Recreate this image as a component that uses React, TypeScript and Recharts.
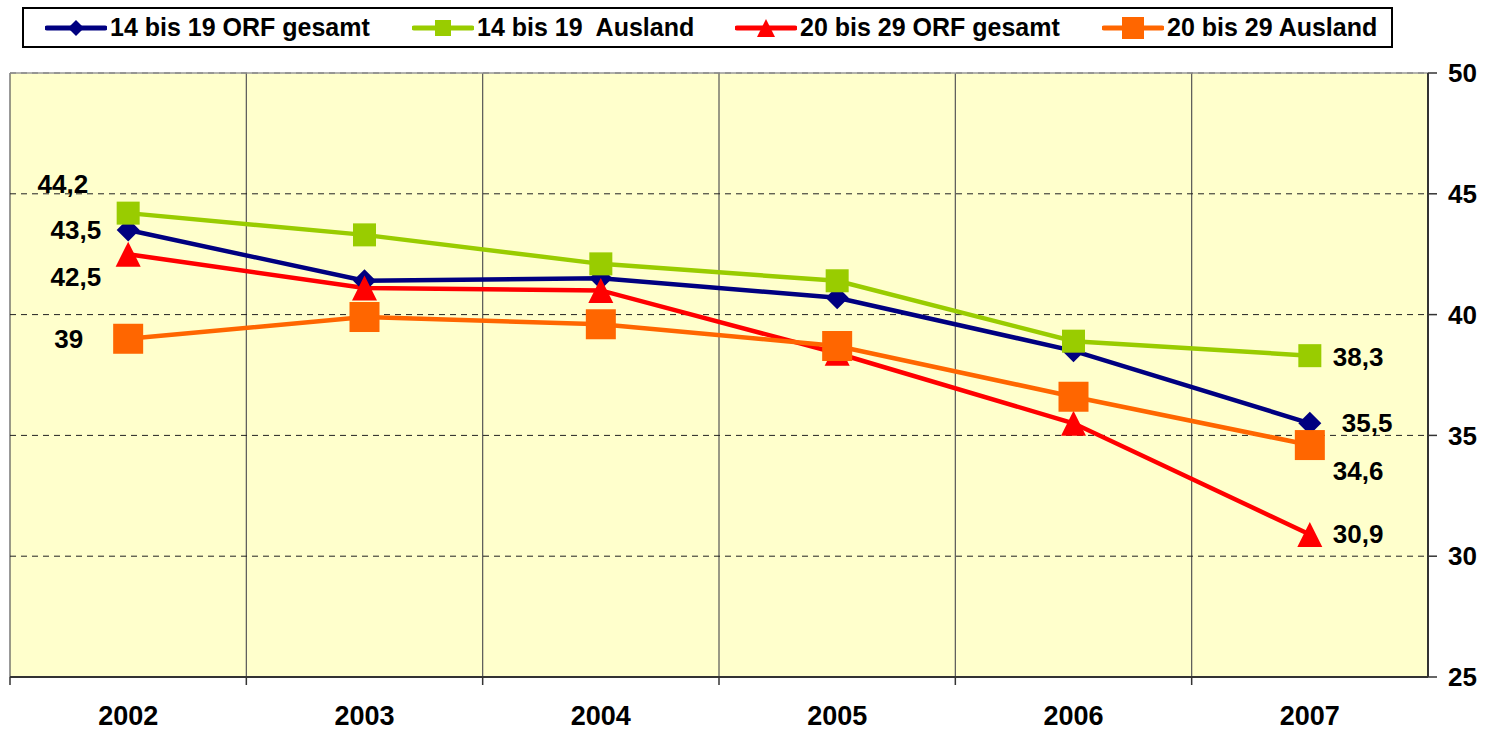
import React from "react";
import {
  LineChart,
  Line,
  XAxis,
  YAxis,
  CartesianGrid,
  ReferenceLine,
  LabelList,
} from "recharts";

const years = ["2002", "2003", "2004", "2005", "2006", "2007"];
const orf1419 = [43.5, 41.4, 41.5, 40.7, 38.5, 35.5];
const ausland1419 = [44.2, 43.3, 42.1, 41.4, 38.9, 38.3];
const orf2029 = [42.5, 41.1, 41.0, 38.4, 35.5, 30.9];
const ausland2029 = [39, 39.9, 39.6, 38.7, 36.6, 34.6];
const yTicks = [25, 30, 35, 40, 45, 50];

const data = years.map((year, i) => ({
  year,
  orf1419: orf1419[i],
  ausland1419: ausland1419[i],
  orf2029: orf2029[i],
  ausland2029: ausland2029[i],
}));

const FONT = "'Liberation Sans', Arial, sans-serif";
const W = 1488;
const H = 731;
const MARGIN = { top: 73, right: 0, left: 10, bottom: 0 };
const Y_AXIS_W = 60;
const BAND = (W - MARGIN.left - MARGIN.right - Y_AXIS_W) / years.length;

type Shape = "diamond" | "square" | "triangle";

const series = [
  {
    key: "orf1419",
    name: "14 bis 19 ORF gesamt",
    color: "#000080",
    shape: "diamond" as Shape,
    r: 11.5,
    lr: 8,
    legendX: 21,
    first: { dx: -27, dy: 0 },
    last: { dx: 32, dy: 0 },
  },
  {
    key: "ausland1419",
    name: "14 bis 19  Ausland",
    color: "#99CC00",
    shape: "square" as Shape,
    r: 11.5,
    lr: 8,
    legendX: 388,
    first: { dx: -40, dy: -29 },
    last: { dx: 23, dy: 1 },
  },
  {
    key: "orf2029",
    name: "20 bis 29 ORF gesamt",
    color: "#FF0000",
    shape: "triangle" as Shape,
    r: 12.5,
    lr: 9,
    legendX: 711,
    first: { dx: -27, dy: 23 },
    last: { dx: 23, dy: 0 },
  },
  {
    key: "ausland2029",
    name: "20 bis 29 Ausland",
    color: "#FF6600",
    shape: "square" as Shape,
    r: 15,
    lr: 11,
    legendX: 1078,
    first: { dx: -45, dy: 0 },
    last: { dx: 23, dy: 26 },
  },
];

function marker(shape: Shape, color: string, cx: number, cy: number, r: number, key?: string) {
  if (shape === "diamond") {
    return (
      <polygon
        key={key}
        points={`${cx},${cy - r} ${cx + r},${cy} ${cx},${cy + r} ${cx - r},${cy}`}
        fill={color}
      />
    );
  }
  if (shape === "triangle") {
    return (
      <polygon
        key={key}
        points={`${cx},${cy - r} ${cx + r},${cy + r} ${cx - r},${cy + r}`}
        fill={color}
      />
    );
  }
  return <rect key={key} x={cx - r} y={cy - r} width={r * 2} height={r * 2} fill={color} />;
}

const fmt = (v: number) => String(v).replace(".", ",");

function makeLabel(s: (typeof series)[number]) {
  return (props: any) => {
    const { index, value } = props;
    const x = props.x ?? props.viewBox?.x;
    const y = props.y ?? props.viewBox?.y;
    if (index !== 0 && index !== years.length - 1) return null;
    const off = index === 0 ? s.first : s.last;
    return (
      <text
        x={x + off.dx}
        y={y + off.dy}
        textAnchor={index === 0 ? "end" : "start"}
        dominantBaseline="central"
        fontFamily={FONT}
        fontWeight="bold"
        fontSize={26}
        fill="#000"
      >
        {fmt(value)}
      </text>
    );
  };
}

const XTick = (props: any) => {
  const { x, y, payload } = props;
  return (
    <g>
      <line x1={x - BAND / 2} x2={x - BAND / 2} y1={y} y2={y + 8} stroke="#333" strokeWidth={1.5} />
      <text
        x={x}
        y={y + 48}
        textAnchor="middle"
        fontFamily={FONT}
        fontWeight="bold"
        fontSize={27}
        fill="#000"
      >
        {payload.value}
      </text>
    </g>
  );
};

function LegendBox() {
  return (
    <div
      style={{
        position: "absolute",
        left: 22,
        top: 7,
        width: 1371,
        height: 41,
        border: "2px solid #000",
        boxSizing: "border-box",
        background: "#fff",
      }}
    >
      {series.map((s) => (
        <div
          key={s.key}
          style={{
            position: "absolute",
            left: s.legendX,
            top: 0,
            height: 37,
            display: "flex",
            alignItems: "center",
          }}
        >
          <svg width={62} height={30} style={{ display: "block" }}>
            <line x1={2} x2={60} y1={15} y2={15} stroke={s.color} strokeWidth={5} strokeLinecap="round" />
            {marker(s.shape, s.color, 31, 15, s.lr)}
          </svg>
          <span
            style={{
              fontFamily: FONT,
              fontWeight: "bold",
              fontSize: 25,
              whiteSpace: "pre",
              marginLeft: 3,
              color: "#000",
            }}
          >
            {s.name}
          </span>
        </div>
      ))}
    </div>
  );
}

export default function App() {
  return (
    <div style={{ position: "absolute", left: 0, top: 0, width: W, height: H, background: "#fff" }}>
      <LegendBox />
      <LineChart width={W} height={H} data={data} margin={MARGIN}>
        <CartesianGrid
          horizontal={false}
          fill="#FFFFCC"
          stroke="#555"
          strokeWidth={1.2}
          verticalCoordinatesGenerator={({ offset }: any) =>
            years.map((_, i) => offset.left + (i * offset.width) / years.length)
          }
        />
        <CartesianGrid vertical={false} stroke="#222" strokeDasharray="6 5" />
        <ReferenceLine y={50} stroke="#999" strokeWidth={1.5} />
        <XAxis
          dataKey="year"
          scale="band"
          height={54}
          interval={0}
          axisLine={{ stroke: "#333", strokeWidth: 2 }}
          tickLine={false}
          tickSize={0}
          tickMargin={0}
          tick={<XTick />}
        />
        <YAxis
          orientation="right"
          domain={[25, 50]}
          ticks={yTicks}
          interval={0}
          width={Y_AXIS_W}
          axisLine={{ stroke: "#333", strokeWidth: 2 }}
          tickLine={{ stroke: "#333", strokeWidth: 1.5 }}
          tickSize={9}
          tickMargin={11}
          tick={{ fill: "#000", fontSize: 26, fontWeight: "bold", fontFamily: FONT }}
        />
        {series.map((s) => (
          <Line
            key={s.key}
            type="linear"
            dataKey={s.key}
            name={s.name}
            stroke={s.color}
            strokeWidth={4.5}
            isAnimationActive={false}
            dot={(p: any) => marker(s.shape, s.color, p.cx, p.cy, s.r, `${s.key}-${p.index}`)}
            activeDot={false}
          >
            <LabelList dataKey={s.key} content={makeLabel(s)} />
          </Line>
        ))}
      </LineChart>
    </div>
  );
}
